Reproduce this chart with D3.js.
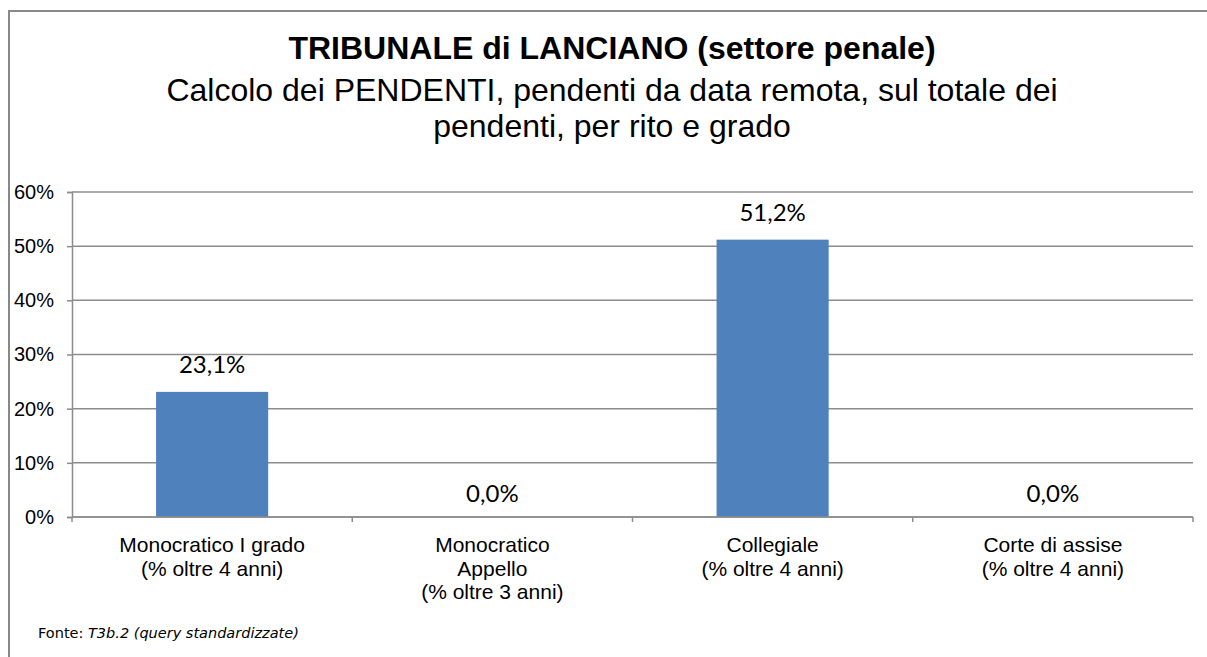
<!DOCTYPE html>
<html>
<head>
<meta charset="utf-8">
<script src="https://cdn.jsdelivr.net/npm/d3@7"></script>
<style>
  body { margin: 0; background: #fff; }
  svg { display: block; }
</style>
</head>
<body>
<script>
let categories = [
    ['Monocratico I grado', '(% oltre 4 anni)'],
    ['Monocratico', 'Appello', '(% oltre 3 anni)'],
    ['Collegiale', '(% oltre 4 anni)'],
    ['Corte di assise', '(% oltre 4 anni)']
];
let values = [23.1, 0.0, 51.2, 0.0];
let yTicks = [0, 10, 20, 30, 40, 50, 60];
let titleLines = ['Calcolo dei PENDENTI, pendenti da data remota, sul totale dei', 'pendenti, per rito e grado'];

let width = 1207, height = 657;
let margin = { top: 192, right: 14, bottom: 140, left: 72 };

let svg = d3.select('body').append('svg')
    .attr('width', width)
    .attr('height', height);

// frame (left + top only visible)
svg.append('path')
    .attr('d', `M9,${height} V11 H${width}`)
    .attr('fill', 'none')
    .attr('stroke', '#888')
    .attr('stroke-width', 2);

// titles
svg.append('text')
    .attr('x', 612).attr('y', 59)
    .attr('text-anchor', 'middle')
    .attr('font-family', 'Liberation Sans, Arial, sans-serif')
    .attr('font-weight', 'bold')
    .attr('font-size', 32)
    .text('TRIBUNALE di LANCIANO (settore penale)');
titleLines.forEach((t, i) => {
    svg.append('text')
        .attr('x', 612).attr('y', 101 + i * 36)
        .attr('text-anchor', 'middle')
        .attr('font-family', 'Liberation Sans, Arial, sans-serif')
        .attr('font-size', 32)
        .text(t);
});

let x = d3.scaleBand()
    .domain(d3.range(values.length))
    .range([margin.left, width - margin.right])
    .paddingInner(0.6).paddingOuter(0.3);
let xOuter = d3.scaleBand()
    .domain(d3.range(values.length))
    .range([margin.left, width - margin.right]);
let y = d3.scaleLinear()
    .domain([0, 60])
    .range([height - margin.bottom, margin.top]);

// gridlines
svg.append('g')
    .selectAll('line')
    .data(yTicks)
    .enter().append('line')
    .attr('x1', margin.left).attr('x2', width - margin.right)
    .attr('y1', d => y(d)).attr('y2', d => y(d))
    .attr('stroke', '#8c8c8c')
    .attr('stroke-width', 1.5);

// y axis
let yAxis = d3.axisLeft(y).tickValues(yTicks).tickSize(5).tickPadding(13).tickFormat(d => d + '%');
let yAxisGroup = svg.append('g')
    .attr('transform', `translate(${margin.left}, 0)`)
    .call(yAxis);
yAxisGroup.select('.domain').attr('stroke', '#8c8c8c').attr('stroke-width', 1.5);
yAxisGroup.selectAll('.tick line').attr('stroke', '#8c8c8c').attr('stroke-width', 1.5);
yAxisGroup.selectAll('.tick text')
    .attr('font-family', 'Liberation Sans, Arial, sans-serif')
    .attr('font-size', 20)
    .attr('fill', '#000');

// bars
svg.append('g')
    .selectAll('rect')
    .data(values)
    .enter().append('rect')
    .attr('x', (d, i) => x(i))
    .attr('width', x.bandwidth())
    .attr('y', d => y(d))
    .attr('height', d => y(0) - y(d))
    .attr('fill', '#4f81bd');

// data labels
svg.append('g')
    .selectAll('text')
    .data(values)
    .enter().append('text')
    .attr('x', (d, i) => x(i) + x.bandwidth() / 2)
    .attr('y', d => y(d) - (d === 0 ? 15 : 19))
    .attr('text-anchor', 'middle')
    .attr('font-family', 'Lato, Carlito, Calibri, sans-serif')
    .attr('font-size', 24)
    .text(d => d.toFixed(1).replace('.', ',') + '%');

// x axis with category boundary ticks
let xAxisGroup = svg.append('g')
    .attr('transform', `translate(0, ${y(0)})`);
xAxisGroup.append('line')
    .attr('x1', margin.left).attr('x2', width - margin.right)
    .attr('stroke', '#8c8c8c').attr('stroke-width', 1.5);
let bounds = d3.range(values.length).map(i => xOuter(i)).concat([width - margin.right]);
xAxisGroup.selectAll('.bound')
    .data(bounds)
    .enter().append('line')
    .attr('x1', d => d).attr('x2', d => d)
    .attr('y1', 0).attr('y2', 5)
    .attr('stroke', '#8c8c8c').attr('stroke-width', 1.5);

let catLabels = xAxisGroup.selectAll('.cat')
    .data(categories)
    .enter().append('text')
    .attr('text-anchor', 'middle')
    .attr('font-family', 'Liberation Sans, Arial, sans-serif')
    .attr('font-size', 21)
    .attr('transform', (d, i) => `translate(${xOuter(i) + xOuter.bandwidth() / 2}, 0)`);
catLabels.selectAll('tspan')
    .data(d => d)
    .enter().append('tspan')
    .attr('x', 0)
    .attr('y', (d, i) => 35 + i * 23.5)
    .text(d => d);

// source note
let note = svg.append('text')
    .attr('x', 38).attr('y', 638)
    .attr('font-family', 'DejaVu Sans, Verdana, sans-serif')
    .attr('font-size', 14.5);
note.append('tspan').text('Fonte: ');
note.append('tspan').attr('font-style', 'italic').text('T3b.2 (query standardizzate)');
</script>
</body>
</html>
